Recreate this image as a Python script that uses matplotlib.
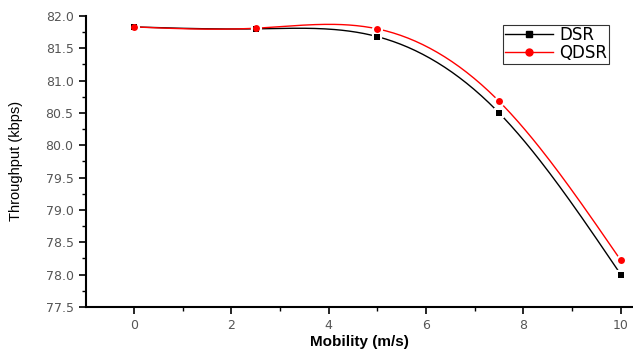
import matplotlib
matplotlib.use("Agg")
import matplotlib.pyplot as plt
import numpy as np
from matplotlib.ticker import MultipleLocator, FormatStrFormatter

mobility = [0, 2.5, 5, 7.5, 10]
dsr = [81.83, 81.80, 81.68, 80.50, 78.00]
qdsr = [81.83, 81.81, 81.80, 80.68, 78.22]


def natural_spline(x, y, n=200):
    # plain natural cubic spline, just for drawing the smooth connecting line
    x = np.asarray(x, float); y = np.asarray(y, float)
    k = len(x); h = np.diff(x)
    A = np.zeros((k, k)); b = np.zeros(k)
    A[0, 0] = A[-1, -1] = 1
    for i in range(1, k - 1):
        A[i, i - 1] = h[i - 1]; A[i, i] = 2 * (h[i - 1] + h[i]); A[i, i + 1] = h[i]
        b[i] = 3 * ((y[i + 1] - y[i]) / h[i] - (y[i] - y[i - 1]) / h[i - 1])
    c = np.linalg.solve(A, b)
    xs = np.linspace(x[0], x[-1], n)
    idx = np.clip(np.searchsorted(x, xs) - 1, 0, k - 2)
    dx = xs - x[idx]
    bb = (y[idx + 1] - y[idx]) / h[idx] - h[idx] * (2 * c[idx] + c[idx + 1]) / 3
    dd = (c[idx + 1] - c[idx]) / (3 * h[idx])
    return xs, y[idx] + bb * dx + c[idx] * dx ** 2 + dd * dx ** 3


plt.rcParams["font.family"] = ["Liberation Sans", "DejaVu Sans"]
fig = plt.figure(figsize=(6.33, 3.54), dpi=100)
ax = fig.add_axes([0.136, 0.133, 0.864, 0.822])

for vals, col, mk, lab in [(dsr, "black", "s", "DSR"), (qdsr, "red", "o", "QDSR")]:
    xs, ys = natural_spline(mobility, vals)
    ax.plot(xs, ys, color=col, lw=1.0, zorder=2)
    ax.plot(mobility, vals, ls="none", marker=mk, ms=5, color=col,
            mec="white", mew=3, zorder=3)
    ax.plot(mobility, vals, ls="none", marker=mk, ms=5, color=col, mew=0, zorder=4)
    ax.plot([], [], color=col, lw=1.0, marker=mk, ms=5, label=lab)

ax.set_xlim(-0.98, 10.25)
ax.set_ylim(77.5, 82.0)
ax.xaxis.set_major_locator(MultipleLocator(2))
ax.xaxis.set_minor_locator(MultipleLocator(1))
ax.yaxis.set_major_locator(MultipleLocator(0.5))
ax.yaxis.set_minor_locator(MultipleLocator(0.25))
ax.yaxis.set_major_formatter(FormatStrFormatter("%.1f"))
for s in ("top", "right"):
    ax.spines[s].set_visible(False)
for s in ("left", "bottom"):
    ax.spines[s].set_linewidth(1.5)
ax.tick_params(which="major", direction="out", length=5, width=1.2,
               labelsize=9, labelcolor="#555555", pad=4)
ax.tick_params(which="minor", direction="out", length=3, width=1.0)
for t in ax.get_xticklabels() + ax.get_yticklabels():
    t.set_family("DejaVu Sans")
ax.set_xlabel("Mobility (m/s)", fontsize=11, fontweight="bold", labelpad=2)
ax.set_ylabel("Throughput (kbps)", fontsize=10.5)
ax.yaxis.set_label_coords(-0.115, 0.5)

leg = ax.legend(loc="upper left", bbox_to_anchor=(0.762, 0.97),
                prop={"family": "DejaVu Sans", "size": 12},
                frameon=True, fancybox=False, edgecolor="black",
                handlelength=2.9, borderpad=0.1, labelspacing=0.0,
                handletextpad=0.4, borderaxespad=0)
leg.get_frame().set_linewidth(0.8)

fig.savefig("out.png", dpi=100)
